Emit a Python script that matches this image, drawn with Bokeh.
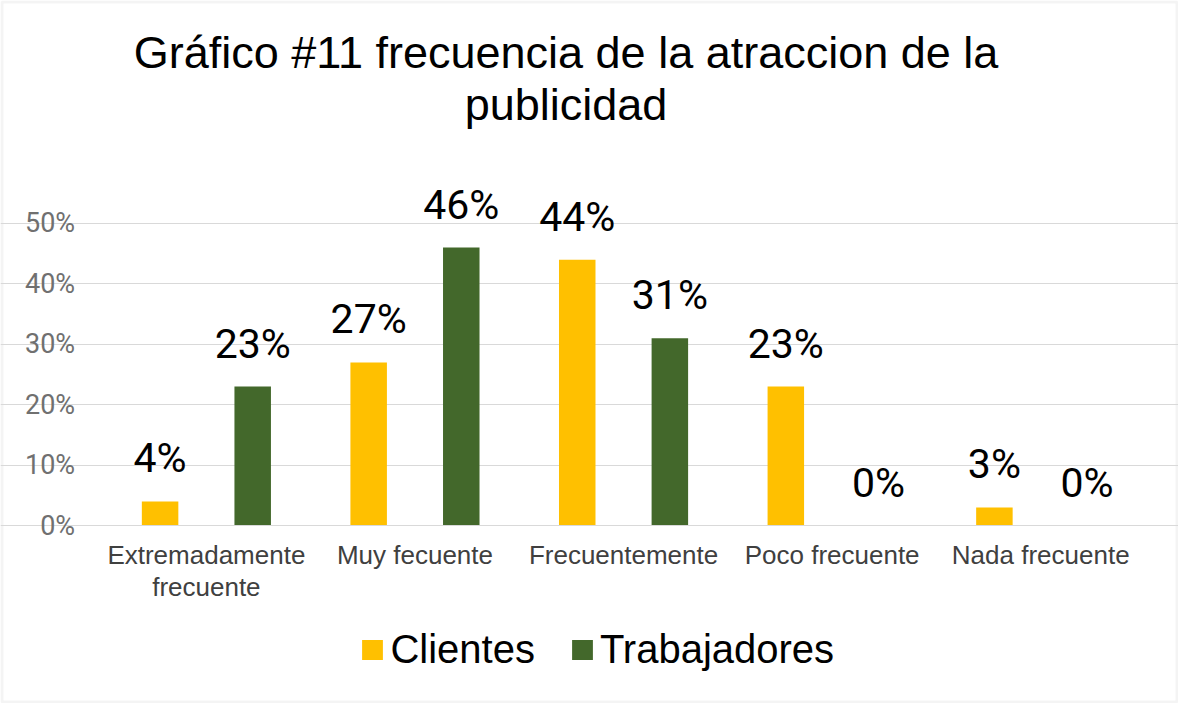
from bokeh.plotting import figure
from bokeh.models import (ColumnDataSource, Range1d, FixedTicker,
                          NumeralTickFormatter, Legend, LegendItem, Label, BoxAnnotation)
from bokeh.core.properties import value
from bokeh.embed import file_html
from bokeh.resources import INLINE

categories = ["Extremadamente\nfrecuente", "Muy fecuente", "Frecuentemente",
              "Poco frecuente", "Nada frecuente"]
clientes = [0.04, 0.27, 0.44, 0.23, 0.03]
trabajadores = [0.23, 0.46, 0.31, 0.00, 0.00]
y_ticks = [0, 0.1, 0.2, 0.3, 0.4, 0.5]
title_lines = ["Gráfico #11 frecuencia de la atraccion de la", "publicidad"]
series_names = ["Clientes", "Trabajadores"]

YELLOW = "#FFC000"
GREEN = "#43682B"

idx = list(range(len(categories)))
OFF = 0.222
src = ColumnDataSource(dict(
    xc=[i - OFF for i in idx],
    xt=[i + OFF for i in idx],
    cli=clientes,
    tra=trabajadores,
    cli_lbl=[f"{round(v*100)}%" for v in clientes],
    tra_lbl=[f"{round(v*100)}%" for v in trabajadores],
))

W, H = 1178, 703
# layout (pixels): plot area from 101.6 to 1144.5 px, 0% at 525 px, 604.3 px per 100%
PL, PR, Y0PX, PPU = 101.6, 1144.5, 525.05, 604.3
UNIT = (PR - PL) / len(categories)
x0 = -0.5 - PL / UNIT
x1 = -0.5 + (W - PL) / UNIT
y1 = Y0PX / PPU
y0 = -(H - Y0PX) / PPU

p = figure(x_range=Range1d(x0, x1), y_range=Range1d(y0, y1),
           width=W, height=H, output_backend="svg", toolbar_location=None,
           min_border=0)
p.outline_line_color = None
p.background_fill_color = "white"
p.border_fill_color = "white"

r1 = p.vbar(x="xc", top="cli", width=0.175, source=src,
            fill_color=YELLOW, line_color=None)
r2 = p.vbar(x="xt", top="tra", width=0.175, source=src,
            fill_color=GREEN, line_color=None)

for xcol, ycol, lcol in [("xc", "cli", "cli_lbl"), ("xt", "tra", "tra_lbl")]:
    p.text(x=xcol, y=ycol, text=lcol, source=src,
           text_align="center", text_baseline="alphabetic", y_offset=-43,
           text_font=value("Roboto"), text_font_size="41px", text_color="#000000")

# axes
p.yaxis.fixed_location = -0.5
p.yaxis.ticker = FixedTicker(ticks=y_ticks)
p.yaxis.formatter = NumeralTickFormatter(format="0%")
p.yaxis.axis_line_color = None
p.yaxis.major_tick_line_color = None
p.yaxis.minor_tick_line_color = None
p.yaxis.major_label_text_font = "Roboto"
p.yaxis.major_label_text_font_size = "27px"
p.yaxis.major_label_text_color = "#707070"
p.yaxis.major_label_standoff = 21

p.xaxis.fixed_location = 0
p.xaxis.bounds = (-0.5, len(categories) - 0.5)
p.xaxis.ticker = FixedTicker(ticks=idx)
p.xaxis.major_label_overrides = {i: c for i, c in zip(idx, categories)}
p.xaxis.axis_line_color = "#D9D9D9"
p.xaxis.axis_line_width = 1
p.xaxis.major_tick_line_color = None
p.xaxis.minor_tick_line_color = None
p.xaxis.major_label_text_font = "Liberation Sans"
p.xaxis.major_label_text_font_size = "26px"
p.xaxis.major_label_text_line_height = 1.07
p.xaxis.major_label_text_color = "#404040"
p.xaxis.major_label_standoff = 8

p.xgrid.grid_line_color = None
p.ygrid.grid_line_color = "#D9D9D9"
p.ygrid.grid_line_width = 1
p.ygrid.bounds = (-0.5, len(categories) - 0.5)
p.ygrid.ticker = FixedTicker(ticks=y_ticks)

# title
for txt, yy in zip(title_lines, [51.5, 103.5]):
    p.add_layout(Label(x=565.5, y=H - yy, x_units="screen", y_units="screen", text=txt,
                       text_align="center", text_baseline="alphabetic",
                       text_font="Liberation Sans", text_font_size="45px",
                       text_color="#000000"))

# legend
legend = Legend(items=[LegendItem(label=series_names[0], renderers=[r1]),
                       LegendItem(label=series_names[1], renderers=[r2])],
                orientation="horizontal", location=(359.4, 31),
                label_text_font="Liberation Sans", label_text_font_size="40px",
                label_text_color="#000000", glyph_width=26, glyph_height=25,
                label_standoff=5, spacing=34, padding=0, margin=0,
                border_line_color=None, background_fill_alpha=0)
p.add_layout(legend, "center")

# outer border
p.add_layout(BoxAnnotation(left=1.5, right=W - 1.5, top=H - 1.5, bottom=1.5,
                           left_units="screen", right_units="screen",
                           top_units="screen", bottom_units="screen",
                           fill_alpha=0, line_color="#D9D9D9", line_width=3))

open("out.html", "w").write(file_html(p, INLINE))
